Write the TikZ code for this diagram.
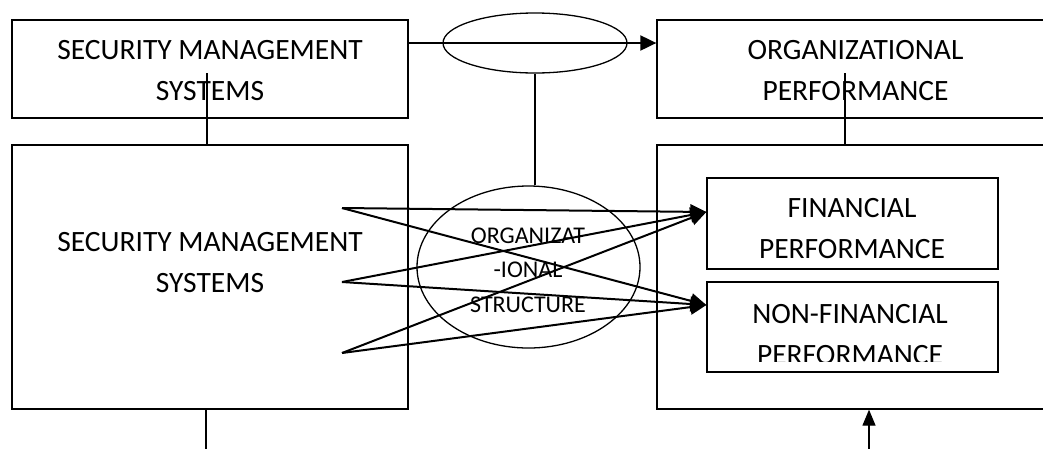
\documentclass[tikz,border=0pt]{standalone}
\usepackage{fontspec}
\setmainfont{Carlito}
\usetikzlibrary{arrows.meta,shapes.geometric,calc}

\tikzset{
  framebox/.style={draw, rectangle, line width=1.3pt, inner sep=0pt},
  oval/.style={draw, ellipse, line width=1.3pt, inner sep=0pt},
  boxtext/.style={font=\fontsize{29.5}{41}\selectfont, align=center, inner sep=0pt},
  ovaltext/.style={font=\fontsize{24}{34.5}\selectfont, align=center, inner sep=0pt},
  link/.style={line width=1.2pt},
  effect/.style={line width=2pt, -{Triangle[length=16pt,width=15pt]}},
  feed/.style={line width=1.3pt, -{Triangle[length=16pt,width=13pt]}}
}

\begin{document}
\begin{tikzpicture}[x=1pt,y=-1pt]
  \clip (0,0) rectangle (1043,448);

  % left column: security management systems
  \node[framebox,minimum width=396pt,minimum height=98pt]  (smsTop) at (210,69)  {};
  \node[framebox,minimum width=396pt,minimum height=264pt] (smsBig) at (210,277) {};
  \node[boxtext] (smsTopLabel) at (210,70.5)  {SECURITY MANAGEMENT\\SYSTEMS};
  \node[boxtext] (smsBigLabel) at (210,262.5) {SECURITY MANAGEMENT\\SYSTEMS};

  % right column: organizational performance (runs off the page)
  \node[framebox,minimum width=403pt,minimum height=98pt]  (opTop) at (858.5,69)  {};
  \node[framebox,minimum width=403pt,minimum height=264pt] (opBig) at (858.5,277) {};
  \node[boxtext] (opTopLabel) at (855.5,70.5) {ORGANIZATIONAL\\PERFORMANCE};

  % the two performance measures
  \node[framebox,minimum width=291pt,minimum height=91pt] (fin)    at (852.5,223.5) {};
  \node[framebox,minimum width=291pt,minimum height=90pt] (nonfin) at (852.5,327)   {};
  \node[boxtext] (finLabel) at (852,228.5) {FINANCIAL\\PERFORMANCE};
  \begin{scope}
    \clip (707,282) rectangle (998,361);
    \node[boxtext] (nonfinLabel) at (850,334.5) {NON-FINANCIAL\\PERFORMANCE};
  \end{scope}

  % moderator ovals
  \node[oval,minimum width=184pt,minimum height=60pt]  (modTop)    at (535,43)    {};
  \node[oval,minimum width=223pt,minimum height=162pt] (orgStruct) at (528.5,267) {};
  \node[ovaltext] (orgLabel) at (528,270) {ORGANIZAT\\-IONAL\\STRUCTURE};

  % main relationship
  \draw[effect] (smsTop.east |- modTop.center) -- (opTop.west |- modTop.center);

  % joins between the boxes
  \coordinate (smsStub) at (207,73);
  \coordinate (opStub)  at (845,73);
  \draw[link] (smsStub) -- (smsStub |- smsBig.north);
  \draw[link] (opStub) -- (opStub |- opBig.north);
  \draw[link] (modTop.south) -- (modTop.south |- orgStruct.north);

  % fan of effects
  \coordinate (src1) at (342,208);
  \coordinate (src2) at (342,282);
  \coordinate (src3) at (342,353);
  \coordinate (finIn)    at ([yshift=11.5pt]fin.west);
  \coordinate (nonfinIn) at ([yshift=22pt]nonfin.west);
  \foreach \s in {src1,src2,src3}
    \foreach \t in {finIn,nonfinIn}
      \draw[effect] (\s) -- (\t);

  % lines leaving the bottom
  \coordinate (smsFoot) at (206,455);
  \coordinate (opFoot)  at (869,455);
  \draw[link] (smsFoot |- smsBig.south) -- (smsFoot);
  \draw[feed] (opFoot) -- (opFoot |- opBig.south);
\end{tikzpicture}
\end{document}
